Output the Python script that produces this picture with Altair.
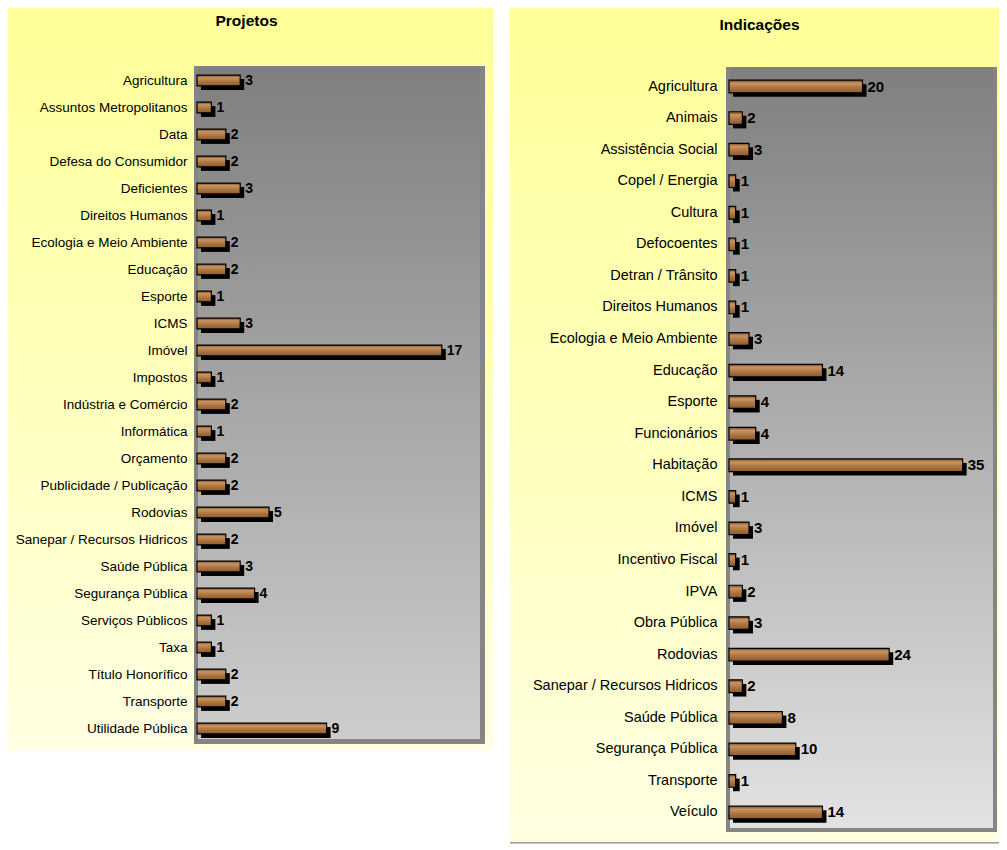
import altair as alt
import pandas as pd

# ---------------- data ----------------
proj_title = "Projetos"
proj_cats = ["Agricultura", "Assuntos Metropolitanos", "Data", "Defesa do Consumidor",
             "Deficientes", "Direitos Humanos", "Ecologia e Meio Ambiente", "Educação ",
             "Esporte", "ICMS", "Imóvel", "Impostos", "Indústria e Comércio", "Informática",
             "Orçamento", "Publicidade / Publicação", "Rodovias", "Sanepar / Recursos Hidricos",
             "Saúde Pública", "Segurança Pública", "Serviços Públicos", "Taxa",
             "Título Honorífico", "Transporte", "Utilidade Pública"]
proj_vals = [3, 1, 2, 2, 3, 1, 2, 2, 1, 3, 17, 1, 2, 1, 2, 2, 5, 2, 3, 4, 1, 1, 2, 2, 9]

ind_title = "Indicações"
ind_cats = ["Agricultura", "Animais", "Assistência Social", "Copel / Energia", "Cultura",
            "Defocoentes", "Detran / Trânsito", "Direitos Humanos", "Ecologia e Meio Ambiente",
            "Educação", "Esporte", "Funcionários", "Habitação", "ICMS", "Imóvel",
            "Incentivo Fiscal", "IPVA", "Obra Pública", "Rodovias", "Sanepar / Recursos Hidricos",
            "Saúde Pública", "Segurança Pública", "Transporte", "Veículo"]
ind_vals = [20, 2, 3, 1, 1, 1, 1, 1, 3, 14, 4, 4, 35, 1, 3, 1, 2, 3, 24, 2, 8, 10, 1, 14]

FONT = "Liberation Sans"

bar_fill = {"gradient": "linear", "x1": 0, "y1": 0, "x2": 0, "y2": 1,
            "stops": [{"offset": 0, "color": "#7a4a22"},
                      {"offset": 0.25, "color": "#c99562"},
                      {"offset": 0.55, "color": "#b07844"},
                      {"offset": 1, "color": "#8c5a2e"}]}

yellow_fill = {"gradient": "linear", "x1": 0, "y1": 0, "x2": 0, "y2": 1,
               "stops": [{"offset": 0, "color": "#ffff99"},
                         {"offset": 0.45, "color": "#ffffb8"},
                         {"offset": 1, "color": "#ffffe2"}]}


def gray_fill(bottom):
    return {"gradient": "linear", "x1": 0, "y1": 0, "x2": 0, "y2": 1,
            "stops": [{"offset": 0, "color": "#7f7f7f"},
                      {"offset": 1, "color": bottom}]}


def rect(fill, x, x2, y, y2):
    return alt.Chart(alt.Data(values=[{}])).mark_rect(fill=fill).encode(
        x=alt.value(x), x2=alt.value(x2), y=alt.value(y), y2=alt.value(y2))


def panel(cats, vals, title, w, h, xmax, pad_outer, geo, label_size, value_size, gray_bottom):
    df = pd.DataFrame({"cat": cats, "val": vals})
    base = alt.Chart(df)
    xenc = alt.X("val:Q", scale=alt.Scale(domain=[0, xmax], nice=False), axis=None)
    yenc = alt.Y("cat:N", sort=None, title=None,
                 scale=alt.Scale(paddingInner=0.6, paddingOuter=pad_outer),
                 axis=alt.Axis(domain=False, ticks=False, grid=False, labelPadding=geo["lp"],
                               labelFont=FONT, labelFontSize=label_size, labelColor="#000000",
                               labelLimit=400, zindex=1))
    yellow = rect(yellow_fill, *geo["yellow"])
    frame = rect("#858585", *geo["frame"])
    inner = rect(gray_fill(gray_bottom), *geo["inner"])
    shadow = base.mark_bar(color="#000000", xOffset=4, x2Offset=4, yOffset=4, y2Offset=4).encode(
        x=xenc, y=yenc)
    bars = base.mark_bar(fill=bar_fill, stroke="#000000", strokeWidth=1.2).encode(x=xenc, y=yenc)
    labels = base.mark_text(align="left", baseline="middle", dx=5, font=FONT, fontSize=value_size,
                            fontWeight="bold", color="#000000").encode(
        x=xenc, y=yenc, text="val:Q")
    ttl = alt.Chart(pd.DataFrame({"t": [title]})).mark_text(
        align="center", baseline="alphabetic", font=FONT, fontSize=15.5, fontWeight="bold",
        color="#000000").encode(x=alt.value(geo["tx"]), y=alt.value(geo["ty"]), text="t:N")
    layers = [yellow, frame, inner]
    if "line" in geo:
        layers.append(rect("#9a9a9a", *geo["line"]))
    layers += [shadow, bars, labels, ttl]
    return alt.layer(*layers).properties(width=w, height=h)


left = panel(proj_cats, proj_vals, proj_title, 288, 675, 20, 0.3,
             {"lp": 10, "yellow": (-189, 296, -59, 683), "frame": (-3, 288, -1, 677),
              "inner": (1, 283, 0, 672), "tx": 49.5, "ty": -41},
             13.5, 14, "#cdcdcd")

right = panel(ind_cats, ind_vals, ind_title, 267, 765, 40, 0.418,
              {"lp": 12, "yellow": (-219, 270, -59, 775), "frame": (-3, 268, 0, 765),
               "inner": (1, 264, 0, 761), "line": (-219, 270, 775, 776.5),
               "tx": 30.5, "ty": -37},
              14.5, 15, "#e2e2e2")

chart = alt.hconcat(left, right, spacing=17).properties(
    padding=0, background="#ffffff").configure_view(strokeWidth=0)

chart.save("out.html", embed_options={"renderer": "svg", "actions": False})
